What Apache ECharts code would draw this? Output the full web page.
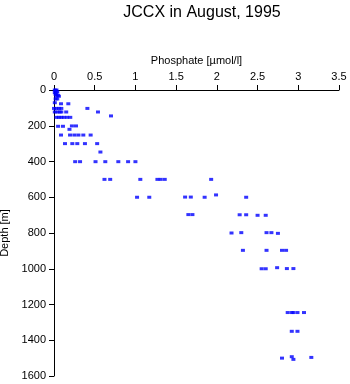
<!DOCTYPE html>
<html><head><meta charset="utf-8">
<script src="https://cdn.jsdelivr.net/npm/echarts@6/dist/echarts.min.js"></script>
<style>html,body{margin:0;padding:0;background:#fff}#c{width:350px;height:384px}</style>
</head><body><div id="c"></div>
<script>
var title = "JCCX in August, 1995";
var xName = "Phosphate [\u00b5mol/l]";
var yName = "Depth [m]";
var xTicks = [0, 0.5, 1, 1.5, 2, 2.5, 3, 3.5];
var yTicks = [0, 200, 400, 600, 800, 1000, 1200, 1400, 1600];
var phosphate = [
  0.01,0.03,0.02,0.04,0.01,0.03,0.02,0.05,0.03,0.06,0.02,0.04,
  0.01,0.086,0.176,
  0.41,0.0,0.03,0.06,0.09,
  0.54,0.01,0.04,0.07,0.09,0.15,
  0.70,0.03,0.06,0.09,0.12,0.16,0.20,
  0.05,0.11,0.19,0.22,0.27,
  0.086,0.197,0.25,0.30,0.36,0.45,
  0.135,0.225,0.286,0.38,0.53,
  0.57,
  0.26,0.32,0.51,0.63,0.79,0.91,1.00,
  0.62,0.69,1.06,1.27,1.31,1.36,1.93,
  1.02,1.17,1.61,1.68,1.85,1.99,2.36,
  1.65,1.70,2.28,2.36,2.50,2.60,
  2.18,2.30,2.61,2.67,2.75,
  2.32,2.61,2.80,2.85,
  2.55,2.60,2.74,2.86,2.94,
  2.87,2.92,2.94,2.99,3.07,
  2.92,2.99,
  2.80,2.92,2.94,3.16
];
var depth = [
  0,0,5,10,15,20,25,30,35,35,50,50,
  71,77,77,
  103,103,103,103,103,
  123,123,123,123,123,123,
  145,153,153,153,153,153,153,
  203,203,220,201,201,
  252,252,252,252,252,252,
  300,300,300,300,300,
  347,
  401,401,401,401,401,401,401,
  500,500,500,500,500,500,500,
  600,600,599,599,600,587,600,
  697,697,698,698,701,701,
  800,798,798,798,802,
  897,897,897,897,
  1000,1000,994,999,999,
  1245,1245,1245,1245,1245,
  1350,1350,
  1500,1492,1507,1496
];
var pts = phosphate.map(function(p,i){return [p, depth[i]];});
var chart = echarts.init(document.getElementById('c'), null, {renderer:'canvas'});
var font = "'Liberation Sans', Arial, sans-serif";
chart.setOption({
  animation:false,
  backgroundColor:'#fff',
  title:{text:title, left:197, top:0, textAlign:'center',
    textStyle:{fontFamily:font, fontSize:16, fontWeight:'normal', color:'#000'}},
  grid:{left:54, top:90, width:285, height:286, containLabel:false, outerBoundsMode:'none'},
  xAxis:{type:'value', position:'top', min:0, max:3.5, interval:0.5,
    name:xName, nameLocation:'middle', nameGap:23,
    nameTextStyle:{fontFamily:font, fontSize:11, color:'#000'},
    axisLine:{show:true, onZero:false, lineStyle:{color:'#000', width:1}},
    axisTick:{show:true, inside:false, length:5, lineStyle:{color:'#000'}},
    axisLabel:{fontFamily:font, fontSize:11, color:'#000', margin:8,
      formatter:function(v){return xTicks.indexOf(v)>=0 ? String(v) : '';}},
    splitLine:{show:false}},
  yAxis:{type:'value', inverse:true, min:0, max:1600, interval:200,
    name:yName, nameLocation:'middle', nameGap:39, nameRotate:90,
    nameTextStyle:{fontFamily:font, fontSize:11, color:'#000'},
    axisLine:{show:true, onZero:false, lineStyle:{color:'#000', width:1}},
    axisTick:{show:true, inside:false, length:5, lineStyle:{color:'#000'}},
    axisLabel:{fontFamily:font, fontSize:11, color:'#000', margin:8,
      formatter:function(v){return yTicks.indexOf(v)>=0 ? String(v) : '';}},
    splitLine:{show:false}},
  series:[{type:'scatter', data:pts, symbol:'rect', symbolSize:[4,3],
    itemStyle:{color:'#0000ff'}}]
});
</script></body></html>
